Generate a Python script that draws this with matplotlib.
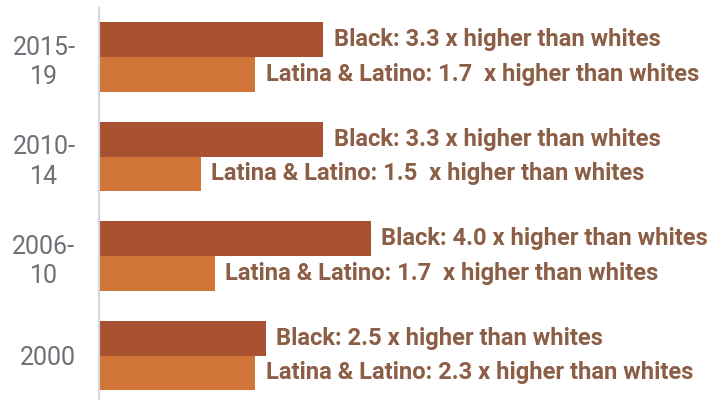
import numpy as np
import matplotlib.pyplot as plt

periods = ['2015-\n19', '2010-\n14', '2006-\n10', '2000']
black = [3.3, 3.3, 4.0, 2.45]
latino = [2.3, 1.5, 1.7, 2.3]
black_labels = ['Black: 3.3 x higher than whites',
                'Black: 3.3 x higher than whites',
                'Black: 4.0 x higher than whites',
                'Black: 2.5 x higher than whites']
latino_labels = ['Latina & Latino: 1.7  x higher than whites',
                 'Latina & Latino: 1.5  x higher than whites',
                 'Latina & Latino: 1.7  x higher than whites',
                 'Latina & Latino: 2.3 x higher than whites']

c_black = '#a85232'
c_latino = '#d27538'
c_text = '#8b5e45'

plt.rcParams['font.family'] = ['Roboto', 'DejaVu Sans']

fig = plt.figure(figsize=(7.28, 4), dpi=100)
ax = fig.add_axes((99 / 728, 0, 629 / 728, 392 / 400))

y = np.arange(len(periods))
h = 0.347
ax.barh(y - h / 2, black, height=h, color=c_black, zorder=2)
ax.barh(y + h / 2, latino, height=h, color=c_latino, zorder=2)

# value labels just past the end of each bar
for yi, v, s in zip(y, black, black_labels):
    ax.annotate(s, (v, yi - h / 2), xytext=(7.5, 0), textcoords='offset points',
                va='center', ha='left', fontsize=17.1, fontweight='bold',
                color=c_text, annotation_clip=False)
for yi, v, s in zip(y, latino, latino_labels):
    ax.annotate(s, (v, yi + h / 2), xytext=(7.5, 0), textcoords='offset points',
                va='center', ha='left', fontsize=17.1, fontweight='bold',
                color=c_text, annotation_clip=False)

ax.set_xlim(0, 629 / 68)
ax.set_ylim(3.447, -0.4925)
ax.set_yticks(y)
ax.set_yticklabels(periods, fontsize=18, color='#6b7176',
                   multialignment='center', linespacing=1.3)
ax.tick_params(axis='y', length=0, pad=17)
ax.set_xticks([])
for side in ['top', 'right', 'bottom']:
    ax.spines[side].set_visible(False)
ax.spines['left'].set_color('#d3d7df')
ax.spines['left'].set_linewidth(1.5)
ax.spines['left'].set_zorder(3)

fig.savefig('out.png', dpi=100)
